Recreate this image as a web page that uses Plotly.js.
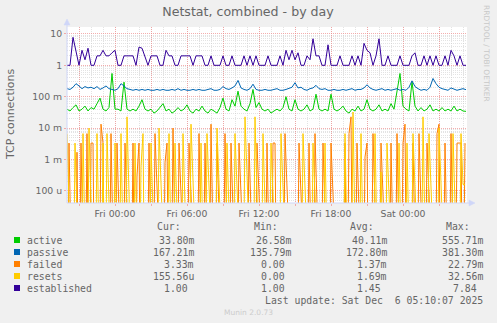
<!DOCTYPE html>
<html><head><meta charset="utf-8">
<script src="https://cdn.plot.ly/plotly-3.0.1.min.js"></script>
<style>html,body{margin:0;padding:0;background:#F0F0F0;}#chart{width:497px;height:323px;}</style>
</head><body><div id="chart"></div>
<script>
// ---- data ----
const seriesNames = ['active', 'passive', 'failed', 'resets', 'established'];
const seriesColors = ['#00CC00', '#0066B3', '#FF8000', '#FFCC00', '#330099'];

// 15-minute samples starting Thu 2025-12-04 20:00
const startTime = Date.UTC(2025, 11, 4, 20, 0);
const stepA = 15 * 60 * 1000;
// 10-minute samples for the failed / resets counters
const stepB = 10 * 60 * 1000;

const established = [1,1,7.8,3,1,3,1.5,3.5,1,1, 2,2,3,2,2,2.5,3,1,1,2, 2,2,2,1,3.8,3.5,2,1,2,2,
  2,1,1,3,2,2,1,1,2,2, 2,2,1,2,2,2,1,1,2,1, 1,1,2,1,1,2,1,1,1,2, 1,2,1,2,1,1,1,2,1,1,
  1,2,1,3,1.5,3,1.5,2.5,1,1, 2,1.5,7,2,2,1,1,4.5,1,1, 1,2,1,1,1,2,1,2,1,5,
  3,2.5,1,2,7,1,1,2,1,1, 1,2,1,1,1,2,2.5,1,1,2, 1,2,1,2,1,1,2,1,3,2, 1,2,1,1];

const passive = [0.18,0.17,0.2,0.26,0.22,0.18,0.21,0.19,0.2,0.18, 0.21,0.17,0.19,0.22,0.18,0.17,0.16,0.18,0.26,0.22,
  0.18,0.17,0.16,0.17,0.16,0.17,0.16,0.17,0.16,0.16, 0.17,0.16,0.17,0.16,0.16,0.17,0.16,0.18,0.16,0.17,
  0.16,0.16,0.17,0.16,0.17,0.16,0.16,0.17,0.18,0.16, 0.16,0.17,0.21,0.18,0.17,0.19,0.22,0.33,0.19,0.17,
  0.16,0.18,0.25,0.17,0.16,0.16,0.17,0.16,0.16,0.17, 0.18,0.16,0.16,0.17,0.18,0.2,0.28,0.19,0.2,0.17,
  0.16,0.18,0.19,0.23,0.18,0.17,0.18,0.16,0.16,0.17, 0.16,0.16,0.17,0.16,0.17,0.18,0.16,0.17,0.17,0.19,
  0.24,0.19,0.17,0.16,0.17,0.18,0.16,0.17,0.16,0.17, 0.18,0.16,0.17,0.16,0.2,0.32,0.21,0.18,0.16,0.17,
  0.16,0.2,0.38,0.26,0.2,0.18,0.17,0.16,0.19,0.17, 0.16,0.17,0.18,0.167];

const active = [0.04,0.035,0.045,0.055,0.035,0.04,0.05,0.035,0.045,0.04, 0.06,0.09,0.04,0.035,0.045,0.55,0.04,0.04,0.035,0.29,
  0.04,0.035,0.04,0.035,0.05,0.08,0.04,0.035,0.04,0.03, 0.035,0.045,0.06,0.035,0.04,0.03,0.035,0.045,0.035,0.04,
  0.055,0.035,0.03,0.04,0.035,0.05,0.035,0.03,0.04,0.035, 0.03,0.045,0.09,0.04,0.035,0.08,0.05,0.15,0.05,0.04,
  0.035,0.06,0.17,0.045,0.065,0.04,0.035,0.04,0.03,0.035, 0.04,0.035,0.045,0.1,0.04,0.035,0.08,0.04,0.035,0.04,
  0.055,0.035,0.04,0.12,0.04,0.035,0.04,0.035,0.12,0.04, 0.035,0.04,0.05,0.035,0.03,0.04,0.035,0.05,0.035,0.04,
  0.08,0.04,0.035,0.04,0.055,0.035,0.04,0.035,0.06,0.04, 0.13,0.55,0.05,0.04,0.035,0.3,0.05,0.035,0.045,0.035,
  0.04,0.055,0.035,0.04,0.035,0.045,0.035,0.04,0.035,0.05, 0.035,0.04,0.035,0.034];

// values in milli (m)
const failedMilli = [0,3.33,0,0,0,1.7,0,3.33,0,0, 6.67,0,3.33,3.33,0,0,0,13.3,3.33,0,
  0,0,6.67,0,0,3.33,0,0,0,3.33, 0,0,0,3.33,0,0.3,3.33,0,0,0,
  0,3.33,0,0,6.67,0,0,0,0,0.8, 3.33,0,0,10,0,0,3.33,0,0,0,
  0,3.33,0,0,0,0,6.67,0,0,3.33, 0,0,13.3,0,0,3.33,0,0,0,6.67,
  0,0,3.33,0,0,0,3.33,0,0,0, 0,3.33,0,0,0,3.33,0,0,0,0,
  3.33,0,0,3.33,3.33,0,0,0,0,6.67, 0,0,0,0,0,0,3.33,0,0,0,
  0,3.33,0,0,6.67,0,0,0,3.33,0, 0,0,3.33,0,0,0,0,0,0,3.33,
  0,6.67,22.8,0,0,3.33,0,0,0,1.2, 3.33,0,0,6.67,0,0,0,3.33,0,0,
  0,0,3.33,0,0,6.67,0,0,3.33,13.3, 0,0,0,3.33,0,0,6.67,0,0,0,
  3.33,0,0,0,0,6.67,13.3,0,0,3.33, 0,0,6.67,0,0,3.33,3.33,3.33,0,3.33];

const resetsMilli = [6.67,0,0,0,3.33,0,0,0,6.67,0, 0,10,0,0,0,6.67,0,0,3.33,0,
  6.67,0,0,0,3.33,0,0,6.67,0,0, 22.8,0,0,0,3.33,0,0,0.6,6.67,0,
  0,0,3.33,0,0,0,10,0,0,0, 0,6.67,0,0,3.33,0,0,0,6.67,0,
  0,0,13.3,0,0,0,0,3.33,0,0, 6.67,0,0,0,0,10,0,0,0,0,
  3.33,0,0,0,6.67,0,0,0,0,22.8, 0,0,0,0,22.8,0,0,0,6.67,0,
  0,0,3.33,0,0,0,0,6.67,0,0, 0,0,0,0,0,0,0,0,6.67,0,
  0,0,0,3.33,0,0,0,0,0,3.33, 0,0,0,0,0,0,0,0,0,6.67,
  0,0,0,32.5,0,0,0,6.67,0,0, 0,0,0,0,6.67,0,0,0.4,0,0,
  3.33,0,0,0,0,0,3.33,0,0,0, 3.33,0,0,6.67,0,0,0,0,22.8,0,
  0,6.67,0,0,0,0,10,0,0,0, 0,0,0,6.67,0,0,0,6.67,0.16,0.16];

const yTickVals = [1e-4, 1e-3, 1e-2, 1e-1, 1, 10];
const yTickText = ['100 u', '1 m', '10 m', '100 m', '1', '10'];
const xTickVals = ['2025-12-04 21:00','2025-12-05 00:00','2025-12-05 03:00','2025-12-05 06:00','2025-12-05 09:00',
  '2025-12-05 12:00','2025-12-05 15:00','2025-12-05 18:00','2025-12-05 21:00','2025-12-06 00:00','2025-12-06 03:00'];
const xTickText = ['', 'Fri 00:00', '', 'Fri 06:00', '', 'Fri 12:00', '', 'Fri 18:00', '', 'Sat 00:00', ''];

const legendHeaders = ['Cur:', 'Min:', 'Avg:', 'Max:'];
const legendCur = ['33.80m', '167.21m', '3.33m', '155.56u', '1.00'];
const legendMin = ['26.58m', '135.79m', '0.00', '0.00', '1.00'];
const legendAvg = ['40.11m', '172.80m', '1.37m', '1.69m', '1.45'];
const legendMax = ['555.71m', '381.30m', '22.79m', '32.56m', '7.84'];
const lastUpdate = 'Last update: Sat Dec\u00a0\u00a06 05:10:07 2025';

// ---- geometry helpers (pixel -> paper) ----
const W = 497, H = 323, L = 67, R = 467, T = 27, B = 203;
const px = x => (x - L) / (R - L);
const py = y => (B - y) / (B - T);

const LOG_FLOOR = 1e-9; // zero values drop below the bottom of the log axis, like rrdtool
const timesA = established.map((_, i) => startTime + i * stepA);
const timesB = failedMilli.map((_, i) => startTime + i * stepB);
const ySeries = {
  active: active, passive: passive,
  failed: failedMilli.map(v => v / 1000), resets: resetsMilli.map(v => v / 1000),
  established: established
};
const traces = seriesNames.map((n, k) => ({
  type: 'scatter', mode: 'lines', name: n,
  x: (n === 'failed' || n === 'resets') ? timesB : timesA,
  y: ySeries[n].map(v => v > 0 ? v : LOG_FLOOR),
  line: {color: seriesColors[k], width: 1}, hoverinfo: 'skip'
}));

const minorY = [];
for (let d = -5; d <= 1; d++) for (let k = 2; k <= 9; k++) minorY.push(k * Math.pow(10, d));

const FONT = 'DejaVu Sans, sans-serif';
const MONO = 'DejaVu Sans Mono, monospace';
const TXT = '#666666';
const MGRID = 'rgba(240,140,140,0.7)';
const GRID = 'rgba(200,200,200,0.5)';
const AXIS = '#CFD6F8';

const ann = [];
function addText(text, x, y, anchor, font, extra) {
  ann.push(Object.assign({text: text, x: px(x), y: py(y), xref: 'paper', yref: 'paper',
    xanchor: anchor, yanchor: 'middle', showarrow: false, borderpad: 0, borderwidth: 0,
    font: font}, extra || {}));
}
const legFont = {family: MONO, size: 9.8, color: TXT};
const headerX = [181, 278, 374, 470];
const valueX = [194, 291, 387, 483];
legendHeaders.forEach((h, j) => addText(h, headerX[j], 227, 'right', legFont));
const rowsY = [240, 252, 264, 276, 288];
const cols = [legendCur, legendMin, legendAvg, legendMax];
const shapes = [];
seriesNames.forEach((n, k) => {
  addText(n, 27, rowsY[k], 'left', legFont);
  cols.forEach((c, j) => {
    const s = /[a-zA-Z]$/.test(c[k]) ? c[k] : c[k] + '\u00a0';
    addText(s, valueX[j], rowsY[k], 'right', legFont);
  });
  shapes.push({type: 'rect', xref: 'paper', yref: 'paper', x0: px(14), x1: px(20),
    y0: py(rowsY[k] + 3), y1: py(rowsY[k] - 3), fillcolor: seriesColors[k], line: {width: 0}});
});
addText(lastUpdate, 483, 300, 'right', legFont);
addText('Munin 2.0.73', 248, 312, 'center', {family: FONT, size: 7.5, color: '#CCCCCC'});
addText('RRDTOOL / TOBI OETIKER', 487, 53, 'center', {family: FONT, size: 7.5, color: '#C8C8C8'}, {textangle: 90});
addText('TCP connections', 11, 114, 'center', {family: FONT, size: 11, color: TXT}, {textangle: -90});

// axis lines with arrows
shapes.push({type: 'line', xref: 'paper', yref: 'paper', x0: px(67), x1: px(470), y0: py(203), y1: py(203), line: {color: AXIS, width: 1}, layer: 'above'});
shapes.push({type: 'line', xref: 'paper', yref: 'paper', x0: px(67), x1: px(67), y0: py(203), y1: py(23), line: {color: AXIS, width: 1}, layer: 'above'});
shapes.push({type: 'path', xref: 'paper', yref: 'paper', layer: 'above',
  path: `M ${px(64)},${py(25)} L ${px(67)},${py(19)} L ${px(70)},${py(25)} Z`, fillcolor: AXIS, line: {color: AXIS, width: 0.5}});
shapes.push({type: 'path', xref: 'paper', yref: 'paper', layer: 'above',
  path: `M ${px(469)},${py(200)} L ${px(475)},${py(203)} L ${px(469)},${py(206)} Z`, fillcolor: AXIS, line: {color: AXIS, width: 0.5}});

const layout = {
  width: W, height: H,
  margin: {l: L, r: W - R, t: T, b: H - B, pad: 0},
  paper_bgcolor: '#F0F0F0', plot_bgcolor: '#FFFFFF',
  showlegend: false,
  font: {family: FONT, size: 9.3, color: TXT},
  title: {text: 'Netstat, combined - by day', font: {family: FONT, size: 12.6, color: TXT},
    x: 248 / W, xref: 'container', xanchor: 'center', y: 1 - 12 / H, yref: 'container', yanchor: 'middle'},
  xaxis: {type: 'date', range: ['2025-12-04 20:00', '2025-12-06 05:20'],
    tickmode: 'array', tickvals: xTickVals, ticktext: xTickText,
    showgrid: true, gridcolor: MGRID, griddash: '1px,1px', gridwidth: 1,
    ticks: 'outside', ticklen: 2, tickcolor: MGRID, showline: false, zeroline: false,
    minor: {dtick: 3600000, showgrid: true, gridcolor: GRID, griddash: '1px,1px', ticks: ''},
    tickfont: {family: FONT, size: 9.3, color: TXT}, fixedrange: true},
  yaxis: {type: 'log', range: [Math.log10(4.1e-5), Math.log10(16.6)],
    tickmode: 'array', tickvals: yTickVals, ticktext: yTickText,
    showgrid: true, gridcolor: MGRID, griddash: '1px,1px', gridwidth: 1,
    minor: {tickmode: 'array', tickvals: minorY, showgrid: true, gridcolor: GRID, griddash: '1px,1px', ticks: ''},
    ticks: 'outside', ticklen: 2, tickcolor: MGRID, showline: false, zeroline: false,
    tickfont: {family: FONT, size: 9.3, color: TXT}, fixedrange: true},
  annotations: ann,
  shapes: shapes
};
Plotly.newPlot('chart', traces, layout, {displayModeBar: false, staticPlot: true});
</script>
</body></html>
